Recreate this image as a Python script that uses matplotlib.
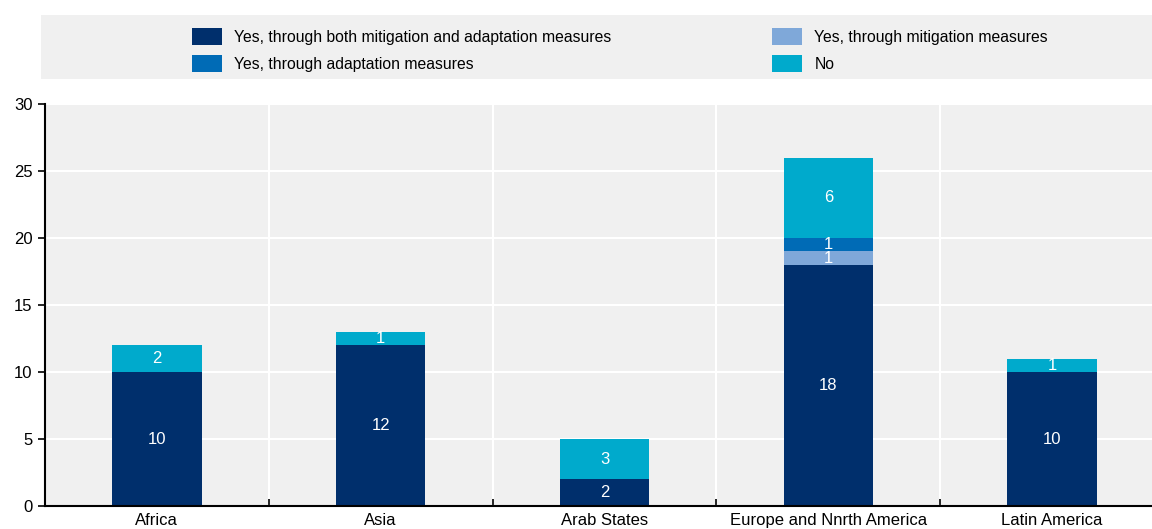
import numpy as np
import matplotlib.pyplot as plt
from matplotlib.patches import Rectangle, Patch

plt.rcParams['font.family'] = ['Liberation Sans Narrow', 'Liberation Sans', 'DejaVu Sans']

regions = ['Africa', 'Asia', 'Arab States', 'Europe and Nnrth America', 'Latin America']
both = [10, 12, 2, 18, 10]
mitigation = [0, 0, 0, 1, 0]
adaptation = [0, 0, 0, 1, 0]
no = [2, 1, 3, 6, 1]

series = [
    ('Yes, through both mitigation and adaptation measures', both, '#002f6c'),
    ('Yes, through mitigation measures', mitigation, '#7fa8d9'),
    ('Yes, through adaptation measures', adaptation, '#006bb6'),
    ('No', no, '#00aacc'),
]

W, H = 1152, 529
fig = plt.figure(figsize=(W / 100, H / 100), dpi=100)

# legend background
fig.patches.append(Rectangle((41 / W, 1 - 79 / H), (W - 41) / W, 64 / H,
                             transform=fig.transFigure, facecolor='#f0f0f0',
                             edgecolor='none', zorder=0))

ax = fig.add_axes([45 / W, 23 / H, 1119 / W, 402 / H])
ax.set_facecolor('#f0f0f0')

x = np.arange(len(regions))
bottom = np.zeros(len(regions))
for name, vals, col in series:
    vals = np.array(vals, dtype=float)
    ax.bar(x, vals, 0.4, bottom=bottom, color=col, label=name, zorder=3)
    for xi, b, v in zip(x, bottom, vals):
        if v > 0:
            ax.text(xi, b + v / 2, '%d' % v, ha='center', va='center',
                    color='white', fontsize=12, zorder=4)
    bottom += vals

ax.set_xlim(-0.5, len(regions) - 0.5)
ax.set_ylim(0, 30)
ax.set_yticks(range(0, 31, 5))
ax.set_xticks(x)
ax.set_xticklabels(regions)
ax.set_xticks(np.arange(0.5, len(regions) - 0.5, 1), minor=True)
ax.tick_params(axis='x', which='major', length=0, labelsize=12, pad=5)
ax.tick_params(axis='x', which='minor', direction='in', length=5, width=1.2)
ax.tick_params(axis='y', direction='out', length=5, width=1.2, labelsize=12, pad=4)
ax.grid(axis='y', color='white', linewidth=1.5, zorder=1)
ax.grid(axis='x', which='minor', color='white', linewidth=1.5, zorder=1)
ax.set_axisbelow(True)
for s in ['top', 'right']:
    ax.spines[s].set_visible(False)
for s in ['left', 'bottom']:
    ax.spines[s].set_linewidth(1.5)
    ax.spines[s].set_zorder(5)

h = [Patch(facecolor=c) for _, _, c in series]
labels = [n for n, _, _ in series]
kw = dict(loc='upper left', frameon=False, fontsize=11.3, handlelength=1.9,
          handleheight=1.3, handletextpad=0.8, labelspacing=0.62,
          borderaxespad=0, borderpad=0)
fig.legend([h[0], h[2]], [labels[0], labels[2]],
           bbox_to_anchor=(192 / W, 1 - 28 / H), **kw)
fig.legend([h[1], h[3]], [labels[1], labels[3]],
           bbox_to_anchor=(772 / W, 1 - 28 / H), **kw)

fig.savefig('out.png', dpi=100, facecolor='white')
